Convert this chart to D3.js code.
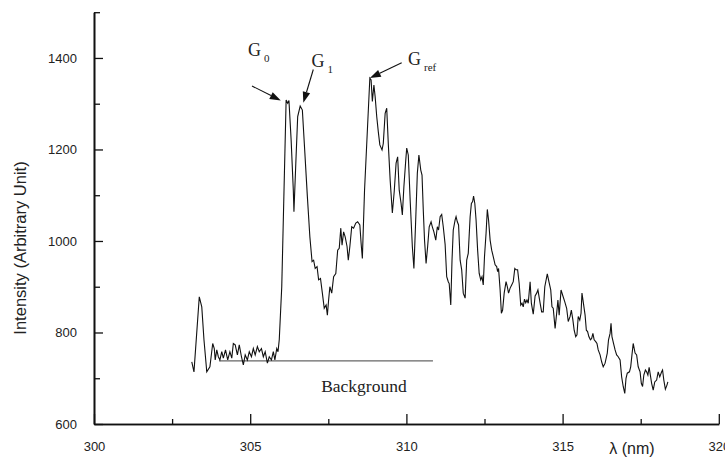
<!DOCTYPE html>
<html>
<head>
<meta charset="utf-8">
<script src="https://cdn.jsdelivr.net/npm/d3@7"></script>
<style>
  body { margin: 0; background: #fff; }
  svg { display: block; }
  .tick text { font-family: "Liberation Sans", Arial, sans-serif; font-size: 13px; fill: #222; }
</style>
</head>
<body>
<div id="chart"></div>
<script>
var svgWidth = 725;
var svgHeight = 458;

// spectrum (nm, arbitrary units)
var wavelength = [
  303.13, 303.20, 303.37, 303.45, 303.52, 303.61, 303.71, 303.80, 303.85, 303.88,
  303.93, 303.98, 304.03, 304.09, 304.14, 304.21, 304.28, 304.35, 304.41, 304.46,
  304.52, 304.59, 304.65, 304.72, 304.78, 304.84, 304.91, 304.97, 305.04, 305.10,
  305.16, 305.23, 305.29, 305.36, 305.42, 305.48, 305.55, 305.61, 305.68, 305.74,
  305.79, 305.85, 305.89, 305.93, 306.01, 306.15, 306.20, 306.24, 306.31, 306.38,
  306.40, 306.46, 306.52, 306.60, 306.67, 306.75, 306.83, 306.91, 306.98, 307.03,
  307.08, 307.14, 307.19, 307.25, 307.31, 307.37, 307.43, 307.47, 307.51, 307.55,
  307.61, 307.67, 307.74, 307.80, 307.85, 307.90, 307.94, 307.99, 308.04, 308.10,
  308.14, 308.19, 308.25, 308.31, 308.38, 308.44, 308.51, 308.55, 308.59, 308.66,
  308.83, 308.87, 308.91, 308.96, 309.00, 309.05, 309.10, 309.15, 309.22, 309.26,
  309.32, 309.37, 309.42, 309.48, 309.55, 309.61, 309.67, 309.72, 309.77, 309.83,
  309.87, 309.92, 309.98, 310.01, 310.06, 310.12, 310.19, 310.24, 310.29, 310.35,
  310.40, 310.46, 310.50, 310.54, 310.58, 310.63, 310.68, 310.73, 310.79, 310.83,
  310.88, 310.94, 310.99, 311.03, 311.08, 311.13, 311.18, 311.24, 311.29, 311.34,
  311.37, 311.42, 311.46, 311.50, 311.56, 311.59, 311.63, 311.67, 311.72, 311.77,
  311.82, 311.88, 311.93, 311.98, 312.04, 312.08, 312.12, 312.15, 312.19, 312.23,
  312.28, 312.33, 312.38, 312.42, 312.46, 312.50, 312.55, 312.59, 312.63, 312.68,
  312.73, 312.78, 312.84, 312.89, 312.92, 312.95, 313.00, 313.04, 313.08, 313.13,
  313.19, 313.23, 313.27, 313.32, 313.37, 313.42, 313.47, 313.51, 313.56, 313.61,
  313.66, 313.70, 313.74, 313.78, 313.82, 313.86, 313.90, 313.96, 314.00, 314.06,
  314.12, 314.17, 314.21, 314.28, 314.33, 314.38, 314.43, 314.51, 314.55, 314.62,
  314.66, 314.70, 314.76, 314.81, 314.85, 314.89, 314.95, 315.00, 315.07, 315.13,
  315.18, 315.24, 315.28, 315.33, 315.37, 315.42, 315.46, 315.50, 315.55, 315.59,
  315.62, 315.66, 315.72, 315.76, 315.80, 315.84, 315.89, 315.93, 315.97, 316.01,
  316.06, 316.10, 316.14, 316.20, 316.25, 316.30, 316.36, 316.43, 316.47, 316.52,
  316.55, 316.58, 316.63, 316.68, 316.73, 316.78, 316.84, 316.89, 316.94, 316.99,
  317.03, 317.07, 317.14, 317.18, 317.22, 317.26, 317.32, 317.37, 317.42, 317.48,
  317.52, 317.56, 317.60, 317.65, 317.69, 317.73, 317.77, 317.85, 317.90, 317.95,
  318.01, 318.06, 318.11, 318.17, 318.20, 318.24, 318.29, 318.34, 318.37
];
var intensity = [
  736, 714, 878, 856, 784, 714, 725, 776, 765, 740,
  762, 747, 740, 758, 744, 762, 740, 758, 744, 776,
  773, 751, 773, 747, 729, 751, 740, 758, 747, 765,
  751, 769, 758, 765, 747, 758, 733, 747, 740, 758,
  740, 765, 758, 784, 900, 1308, 1301, 1307, 1221, 1111,
  1064, 1170, 1272, 1295, 1286, 1192, 1097, 1009, 955, 958,
  940, 944, 915, 918, 886, 853, 860, 838, 871, 900,
  886, 922, 929, 980, 984, 1028, 991, 1020, 1009, 988,
  958, 988, 1031, 1028, 1039, 1042, 1035, 995, 962, 1111,
  1356, 1352, 1305, 1341, 1315, 1272, 1239, 1210, 1199, 1213,
  1279, 1290, 1213, 1133, 1061, 1108, 1170, 1184, 1111, 1082,
  1057, 1119, 1177, 1203, 1188, 1090, 988, 940, 1031, 1148,
  1188, 1155, 1144, 1068, 1002, 951, 988, 1031, 1042, 1031,
  1020, 1002, 1031, 1024, 1053, 1058, 1031, 992, 922, 911,
  907, 860, 958, 1024, 1046, 1053, 1042, 1035, 958, 937,
  886, 875, 958, 973, 1053, 1082, 1086, 1098, 1082, 1046,
  980, 929, 915, 922, 904, 966, 1017, 1069, 1046, 1002,
  980, 966, 948, 944, 933, 940, 893, 842, 849, 886,
  911, 900, 886, 897, 904, 911, 940, 937, 937, 907,
  860, 864, 856, 873, 865, 871, 864, 911, 864, 840,
  880, 886, 893, 864, 845, 845, 900, 928, 915, 893,
  856, 853, 809, 842, 871, 838, 893, 882, 867, 853,
  824, 835, 849, 827, 805, 791, 795, 835, 827, 842,
  886, 867, 838, 805, 802, 791, 784, 787, 798, 784,
  780, 776, 762, 751, 736, 725, 733, 755, 784, 798,
  820, 791, 776, 762, 751, 747, 740, 703, 682, 667,
  700, 711, 714, 725, 751, 776, 755, 751, 725, 714,
  689, 682, 707, 718, 714, 707, 724, 689, 674, 692,
  696, 714, 703, 714, 718, 696, 676, 685, 692
];

var xTicks = [300, 305, 310, 315, 320];
var xMinorTicks = [302.5, 307.5, 312.5, 317.5];
var yTicks = [600, 800, 1000, 1200, 1400];
var yMinorTicks = [700, 900, 1100, 1300, 1500];

var backgroundLevel = 738;
var backgroundRange = [304.0, 310.85];

var peakNames = ["0", "1", "ref"];
var peakWavelength = [305.98, 306.70, 308.83];
var peakIntensity = [1307, 1302, 1356];

var data = wavelength.map(function (w, i) { return { x: w, y: intensity[i] }; });

var svg = d3.select("#chart")
    .append("svg")
    .attr("width", svgWidth)
    .attr("height", svgHeight);

var xScale = d3.scaleLinear().domain([300, 320]).range([94, 718.8]);
var yScale = d3.scaleLinear().domain([600, 1500]).range([424, 12.2]);

// axes, ticks pointing into the plot
var bottomAxis = d3.axisBottom(xScale).tickValues(xTicks).tickFormat(d3.format("d"))
    .tickSizeInner(-10).tickSizeOuter(0).tickPadding(18);
var bottomMinor = d3.axisBottom(xScale).tickValues(xMinorTicks).tickSizeInner(-5).tickSizeOuter(0).tickFormat("");
var leftAxis = d3.axisLeft(yScale).tickValues(yTicks).tickFormat(d3.format("d"))
    .tickSizeInner(-9).tickSizeOuter(0).tickPadding(17);
var leftMinor = d3.axisLeft(yScale).tickValues(yMinorTicks).tickSizeInner(-6).tickSizeOuter(0).tickFormat("");

[bottomAxis, bottomMinor].forEach(function (ax) {
    svg.append("g").attr("transform", "translate(0,424)").call(ax);
});
[leftAxis, leftMinor].forEach(function (ax) {
    svg.append("g").attr("transform", "translate(94,0)").call(ax);
});
svg.selectAll(".domain").attr("stroke", "#111").attr("stroke-width", 1.6);
svg.selectAll(".tick line").attr("stroke", "#111").attr("stroke-width", 1.3);

// background level
svg.append("line")
    .attr("x1", xScale(backgroundRange[0]))
    .attr("x2", xScale(backgroundRange[1]))
    .attr("y1", yScale(backgroundLevel))
    .attr("y2", yScale(backgroundLevel))
    .attr("stroke", "#666")
    .attr("stroke-width", 1.2);

// spectrum
var line = d3.line().x(d => xScale(d.x)).y(d => yScale(d.y));
svg.append("path")
    .datum(data)
    .attr("d", line)
    .attr("fill", "none")
    .attr("stroke", "#111")
    .attr("stroke-width", 1.1);

// axis titles
svg.append("text")
    .attr("transform", "translate(26,248) rotate(-90)")
    .attr("text-anchor", "middle")
    .style("font-family", "'Liberation Sans', Arial, sans-serif")
    .style("font-size", "16.5px")
    .style("fill", "#222")
    .text("Intensity (Arbitrary Unit)");

svg.append("text")
    .attr("x", 632)
    .attr("y", 454)
    .attr("text-anchor", "middle")
    .style("font-family", "'Liberation Sans', Arial, sans-serif")
    .style("font-size", "16px")
    .style("fill", "#222")
    .text("λ (nm)");

svg.append("text")
    .attr("x", xScale(308.64))
    .attr("y", 391.5)
    .attr("text-anchor", "middle")
    .style("font-family", "'Liberation Serif', 'Times New Roman', serif")
    .style("font-size", "17.5px")
    .style("fill", "#222")
    .text("Background");

// peak labels and arrows
var labelPos = [[248, 56], [311.5, 66.5], [408, 65]];
var arrowTail = [[252, 86], [313.3, 69.5], [401.7, 62.7]];

peakNames.forEach(function (name, i) {
    var t = svg.append("text")
        .attr("x", labelPos[i][0])
        .attr("y", labelPos[i][1])
        .style("font-family", "'Liberation Serif', 'Times New Roman', serif")
        .style("font-size", "18px")
        .style("fill", "#222");
    t.append("tspan").text("G");
    t.append("tspan").attr("dx", 3).attr("dy", 6).style("font-size", "11px").text(name);

    var tx = xScale(peakWavelength[i]), ty = yScale(peakIntensity[i]);
    var sx = arrowTail[i][0], sy = arrowTail[i][1];
    var ang = Math.atan2(ty - sy, tx - sx);
    var len = 11, half = 3.8;
    var bx = tx - len * Math.cos(ang), by = ty - len * Math.sin(ang);
    svg.append("line")
        .attr("x1", sx).attr("y1", sy).attr("x2", bx).attr("y2", by)
        .attr("stroke", "#111").attr("stroke-width", 1.1);
    svg.append("path")
        .attr("d", "M" + tx + "," + ty +
            "L" + (bx + half * Math.sin(ang)) + "," + (by - half * Math.cos(ang)) +
            "L" + (bx - half * Math.sin(ang)) + "," + (by + half * Math.cos(ang)) + "Z")
        .attr("fill", "#111");
});
</script>
</body>
</html>
